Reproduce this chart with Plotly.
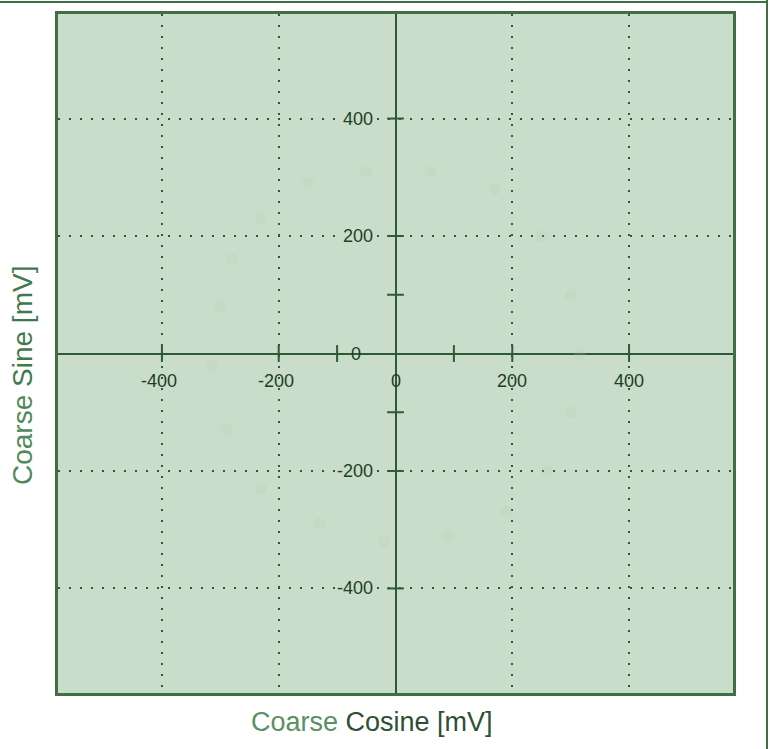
import plotly.graph_objects as go

# ---- data ----
grid_values = [-400, -200, 200, 400]
tick_mark_values = [-400, -200, -100, 100, 200, 400]
x_tick_labels = [-400, -200, 0, 200, 400]
y_tick_labels = [400, 200, 0, -200, -400]
axis_range = [-578, 578]

# faint ring of sample points
ring_x = [-300, -280, -230, -150, -50, 60, 170, 250, 300, 315, 300, 260, 190, 90, -20, -130, -230, -290, -315]
ring_y = [80, 160, 230, 290, 310, 310, 280, 200, 100, 0, -100, -200, -270, -310, -320, -290, -230, -130, -20]

BG = "#cadcca"
DARK = "#2f5a36"
LABEL = "#1d3f25"
BORDER = "#3f6f44"
FONT = "Liberation Sans"

fig = go.Figure()

fig.add_trace(go.Scatter(
    x=ring_x, y=ring_y, mode="markers",
    marker=dict(size=12, color="rgba(175,205,175,0.18)", line=dict(width=0)),
    hoverinfo="skip", showlegend=False))

# tick marks along the central axes
fig.add_trace(go.Scatter(
    x=tick_mark_values, y=[0] * len(tick_mark_values), mode="markers",
    marker=dict(symbol="line-ns", size=12, line=dict(width=2, color=DARK)),
    hoverinfo="skip", showlegend=False))
fig.add_trace(go.Scatter(
    x=[0] * len(tick_mark_values), y=tick_mark_values, mode="markers",
    marker=dict(symbol="line-ew", size=12, line=dict(width=2, color=DARK)),
    hoverinfo="skip", showlegend=False))

annotations = []
for v in x_tick_labels:
    annotations.append(dict(x=v, y=0, xref="x", yref="y", text=str(v), showarrow=False,
                            yshift=-27, xshift=-3 if v < 0 else 0,
                            font=dict(family=FONT, size=18, color=LABEL)))
for v in y_tick_labels:
    annotations.append(dict(x=0, y=v, xref="x", yref="y", text=str(v), showarrow=False,
                            xanchor="right", xshift=-33 if v == 0 else -21,
                            bgcolor=BG if v != 0 else None,
                            font=dict(family=FONT, size=18, color=LABEL)))

annotations.append(dict(
    x=(372 - 58) / 675, y=(693 - 722) / 679, xref="paper", yref="paper",
    text="<span style='color:#5b8f66'>Coarse</span> <span style='color:#2e4f35'>Cosine [mV]</span>",
    showarrow=False, xanchor="center", yanchor="middle",
    font=dict(family=FONT, size=27)))
annotations.append(dict(
    x=(22 - 58) / 675, y=(693 - 376) / 679, xref="paper", yref="paper",
    text="<span style='color:#4f8a5c'>Coarse</span> <span style='color:#3f7a4c'>Sine [mV]</span>",
    showarrow=False, xanchor="center", yanchor="middle", textangle=-90,
    font=dict(family=FONT, size=28)))

axis_common = dict(
    range=axis_range, showticklabels=False, ticks="",
    tickvals=grid_values, showgrid=True, gridcolor=DARK, gridwidth=2,
    griddash="2px,9px",
    zeroline=True, zerolinecolor=DARK, zerolinewidth=2,
    showline=True, mirror=True, linecolor=BORDER, linewidth=3,
    fixedrange=True,
)

fig.update_layout(
    width=770, height=749,
    margin=dict(l=58, r=37, t=14, b=56),
    paper_bgcolor="white", plot_bgcolor=BG,
    xaxis=dict(**axis_common),
    yaxis=dict(**axis_common),
    annotations=annotations,
    showlegend=False,
    shapes=[
        dict(type="line", xref="paper", yref="paper",
             x0=-58 / 675, x1=(767 - 58) / 675, y0=(693 - 2) / 679, y1=(693 - 2) / 679,
             line=dict(color=BORDER, width=2)),
        dict(type="line", xref="paper", yref="paper",
             x0=(767 - 58) / 675, x1=(767 - 58) / 675, y0=(693 - 0) / 679, y1=(693 - 749) / 679,
             line=dict(color=BORDER, width=2)),
    ],
)

fig.write_html("out.html")
